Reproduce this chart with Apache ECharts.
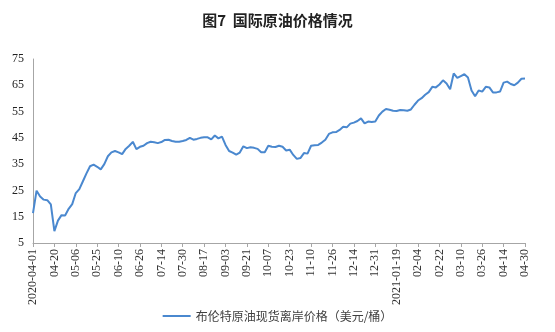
<!DOCTYPE html>
<html>
<head>
<meta charset="utf-8">
<script src="https://cdn.jsdelivr.net/npm/echarts@6/dist/echarts.min.js"></script>
<style>html,body{margin:0;padding:0;background:#fff}#c{width:555px;height:332px}</style>
</head>
<body>
<div id="c"></div>
<script>
// Tick labels on the category axis (one every 6 data points)
var tickLabels = ['2020-04-01','04-20','05-06','05-25','06-10','06-26','07-14','07-30','08-17','09-03','09-21','10-07','10-23','11-10','11-26','12-14','12-31','2021-01-19','02-04','02-22','03-10','03-26','04-14','04-30'];
// Brent spot FOB price (USD/barrel), sampled about every other trading day
var brent = [
16.4,24.9,22.7,21.5,21.3,19.7,9.5,13.5,15.6,15.5,18.0,19.8,
24.0,25.5,28.5,31.5,34.2,34.8,34.0,33.0,35.0,38.0,39.5,40.0,
39.5,38.8,40.8,42.0,43.5,40.7,41.6,42.0,43.0,43.5,43.3,43.0,
43.4,44.2,44.3,43.8,43.5,43.5,43.8,44.2,45.0,44.3,44.6,45.0,
45.2,45.2,44.4,45.9,44.8,45.5,42.3,40.0,39.4,38.6,39.4,41.8,
41.1,41.4,41.2,40.8,39.5,39.5,42.0,41.6,41.5,42.0,41.6,40.2,
40.5,38.5,37.0,37.3,39.2,39.0,42.0,42.2,42.3,43.2,44.3,46.5,
47.1,47.2,48.0,49.2,49.0,50.4,50.8,51.4,52.4,50.5,51.2,51.0,
51.2,53.5,55.0,56.0,55.7,55.3,55.2,55.6,55.5,55.3,55.8,57.6,
59.2,60.1,61.4,62.4,64.4,64.2,65.3,66.9,65.7,63.5,69.5,67.8,
68.5,69.2,68.0,63.0,60.8,63.0,62.6,64.4,64.2,62.3,62.3,62.6,
66.0,66.4,65.5,65.0,66.0,67.5,67.6
];
var yTicks = {min: 5, max: 75, interval: 10};
var seriesName = '布伦特原油现货离岸价格（美元/桶）';
var titleText = '图7  国际原油价格情况';

var step = 6;
var categories = brent.map(function (v, i) {
  return (i % step === 0) ? tickLabels[i / step] : '';
});

var chart = echarts.init(document.getElementById('c'));
chart.setOption({
  animation: false,
  backgroundColor: '#fff',
  title: {
    text: titleText,
    left: 'center',
    top: 8,
    textStyle: {fontFamily: 'Noto Sans CJK SC', fontSize: 15, fontWeight: 'bold', color: '#222'}
  },
  legend: {
    bottom: 5,
    left: 'center',
    itemWidth: 28,
    itemHeight: 10,
    itemGap: 4,
    icon: 'path://M0,4 L28,4 L28,6 L0,6 Z',
    textStyle: {fontFamily: 'Noto Sans CJK SC', fontSize: 12, color: '#404040'},
    data: [seriesName]
  },
  grid: {left: 33, right: 30, top: 59, bottom: 89, containLabel: false},
  xAxis: {
    type: 'category',
    data: categories,
    boundaryGap: false,
    axisLine: {lineStyle: {color: '#a6a6a6', width: 1}},
    axisTick: {show: true, length: 4, interval: function (i) { return i % step === 0; }, lineStyle: {color: '#a6a6a6'}},
    axisLabel: {
      rotate: 90,
      interval: function (i) { return i % step === 0; },
      fontFamily: 'Liberation Serif',
      fontSize: 12,
      color: '#333',
      margin: 6
    },
    splitLine: {show: false}
  },
  yAxis: {
    type: 'value',
    min: yTicks.min,
    max: yTicks.max,
    interval: yTicks.interval,
    axisLine: {show: true, lineStyle: {color: '#a6a6a6', width: 1}},
    axisTick: {show: false},
    axisLabel: {fontFamily: 'Liberation Serif', fontSize: 12, color: '#222', margin: 9},
    splitLine: {show: false}
  },
  series: [{
    name: seriesName,
    type: 'line',
    data: brent,
    symbol: 'none',
    smooth: false,
    lineStyle: {color: '#4a88cf', width: 2},
    itemStyle: {color: '#4a88cf'}
  }]
});
</script>
</body>
</html>
